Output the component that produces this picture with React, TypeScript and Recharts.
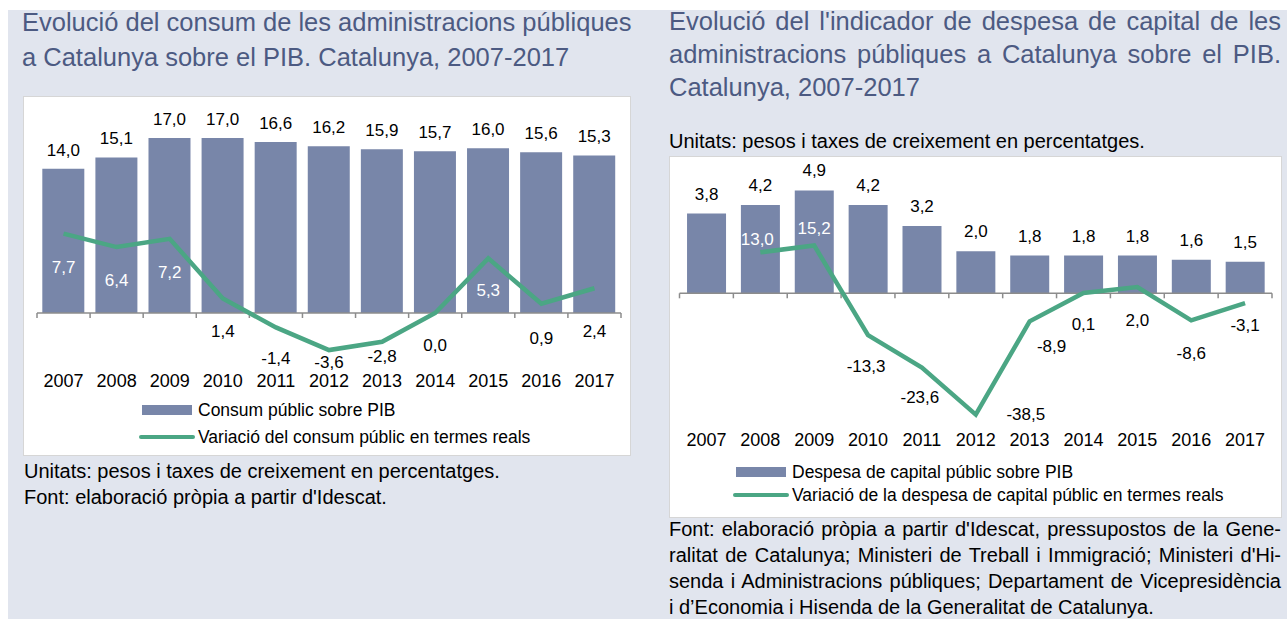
import React from "react";
import { Bar, ComposedChart, LabelList, Line, ReferenceLine, XAxis, YAxis } from "recharts";

const YEARS = ["2007", "2008", "2009", "2010", "2011", "2012", "2013", "2014", "2015", "2016", "2017"];

// Consum públic sobre PIB (%) i variació real (%)
const CONSUM_PIB = [14.0, 15.1, 17.0, 17.0, 16.6, 16.2, 15.9, 15.7, 16.0, 15.6, 15.3];
const CONSUM_VAR = [7.7, 6.4, 7.2, 1.4, -1.4, -3.6, -2.8, 0.0, 5.3, 0.9, 2.4];

// Despesa de capital públic sobre PIB (%) i variació real (%)
const CAPITAL_PIB = [3.8, 4.2, 4.9, 4.2, 3.2, 2.0, 1.8, 1.8, 1.8, 1.6, 1.5];
const CAPITAL_VAR: (number | null)[] = [null, 13.0, 15.2, -13.3, -23.6, -38.5, -8.9, 0.1, 2.0, -8.6, -3.1];

// where each line label sits relative to its point (moved by hand in the original)
const CONSUM_LABEL_DY = [34, 33, 34, 33, 31, 12, 15, 32, 32, 35, 43];
const CONSUM_LABEL_WHITE = [true, true, true, false, false, false, false, false, true, false, false];
const CAPITAL_LABEL_DX = [0, -3, 0, -2, -2, 50, 22, 0, 0, 0, 0];
const CAPITAL_LABEL_DY = [0, -13, -17, 31, 30, 0, 25, 32, 33, 33, 22];
const CAPITAL_LABEL_WHITE = [false, true, true, false, false, false, false, false, false, false, false];

const consumData = YEARS.map((year, i) => ({ year, pib: CONSUM_PIB[i], variacio: CONSUM_VAR[i] }));
const capitalData = YEARS.map((year, i) => ({ year, pib: CAPITAL_PIB[i], variacio: CAPITAL_VAR[i] }));

const BAR = "#7886a9";
const GREEN = "#4ba684";
const TITLE = "#4c5a82";
const PANEL = "#e1e5ee";
const FONT = "'Liberation Sans', Arial, sans-serif";

const fmt = (v: number) => v.toFixed(1).replace(".", ",");

function ZeroAxis(props: any) {
  const { x1, y1, x2 } = props;
  const n = YEARS.length;
  const ticks = [];
  for (let i = 0; i <= n; i++) {
    const x = x1 + ((x2 - x1) * i) / n;
    ticks.push(<line key={i} x1={x} x2={x} y1={y1} y2={y1 + 5} stroke="#8c8c8c" strokeWidth={1.5} />);
  }
  return (
    <g>
      <line x1={x1} x2={x2} y1={y1} y2={y1} stroke="#8c8c8c" strokeWidth={1.5} />
      {ticks}
    </g>
  );
}

function lineLabel(dxs: number[], dys: number[], white: boolean[]) {
  return (props: any) => {
    const { x, y, value, index } = props;
    if (value === null || value === undefined || y === null || y === undefined) return null;
    return (
      <text
        x={x + dxs[index]}
        y={y + dys[index]}
        textAnchor="middle"
        dominantBaseline="central"
        fontSize={17}
        fill={white[index] ? "#ffffff" : "#000000"}
      >
        {fmt(value)}
      </text>
    );
  };
}

function LegendRow({ top, left, kind, text }: { top: number; left: number; kind: "bar" | "line"; text: string }) {
  return (
    <div style={{ position: "absolute", top: top - 12, left, height: 24, display: "flex", alignItems: "center", fontSize: 17.5, color: "#000" }}>
      {kind === "bar" ? (
        <div style={{ width: 50, height: 10, background: BAR, marginLeft: 3, marginRight: 6 }} />
      ) : (
        <div style={{ width: 56, height: 4.5, background: GREEN, borderRadius: 2, marginRight: 3 }} />
      )}
      <span>{text}</span>
    </div>
  );
}

const justifyLine: React.CSSProperties = { textAlign: "justify", textAlignLast: "justify", whiteSpace: "nowrap" };

export default function App() {
  return (
    <div style={{ position: "absolute", left: 0, top: 0, width: 1287, height: 619, background: "#fff", fontFamily: FONT, overflow: "hidden" }}>
      <div style={{ position: "absolute", left: 8, top: 10, width: 1279, height: 609, background: PANEL }} />

      {/* left panel */}
      <div style={{ position: "absolute", left: 22, top: 5, width: 640, fontSize: 25.5, lineHeight: "35px", color: TITLE }}>
        <div>Evolució del consum de les administracions públiques</div>
        <div>a Catalunya sobre el PIB. Catalunya, 2007-2017</div>
      </div>
      <div style={{ position: "absolute", left: 24, top: 97, width: 606, height: 358, background: "#fff", boxShadow: "0 0 0 1px #d6d6d6" }} />
      <div style={{ position: "absolute", left: 24, top: 97 }}>
        <ComposedChart width={606} height={358} data={consumData} margin={{ top: 10, right: 9, left: 13, bottom: 60.5 }} barCategoryGap="10%">
          <XAxis dataKey="year" axisLine={false} tickLine={false} interval={0} height={30} tickMargin={4} tick={{ fontSize: 18, fill: "#000" }} />
          <YAxis hide width={0} domain={[-5, 20]} />
          <Bar dataKey="pib" fill={BAR} isAnimationActive={false}>
            <LabelList dataKey="pib" position="top" offset={13} fontSize={17} fill="#000" formatter={(v: any) => fmt(Number(v))} />
          </Bar>
          <ReferenceLine y={0} shape={ZeroAxis} />
          <Line dataKey="variacio" stroke={GREEN} strokeWidth={4.5} dot={false} activeDot={false} isAnimationActive={false}>
            <LabelList dataKey="variacio" content={lineLabel(YEARS.map(() => 0), CONSUM_LABEL_DY, CONSUM_LABEL_WHITE)} />
          </Line>
        </ComposedChart>
      </div>
      <LegendRow top={410} left={139} kind="bar" text="Consum públic sobre PIB" />
      <LegendRow top={437} left={139} kind="line" text="Variació del consum públic en termes reals" />
      <div style={{ position: "absolute", left: 24, top: 458, fontSize: 20, lineHeight: "26px", color: "#000" }}>
        <div>Unitats: pesos i taxes de creixement en percentatges.</div>
        <div>Font: elaboració pròpia a partir d'Idescat.</div>
      </div>

      {/* right panel */}
      <div style={{ position: "absolute", left: 669, top: 5, width: 612, fontSize: 25.5, lineHeight: "33px", color: TITLE }}>
        <div style={justifyLine}>Evolució del l'indicador de despesa de capital de les</div>
        <div style={justifyLine}>administracions públiques a Catalunya sobre el PIB.</div>
        <div>Catalunya, 2007-2017</div>
      </div>
      <div style={{ position: "absolute", left: 669, top: 128, fontSize: 20, lineHeight: "26px", color: "#000" }}>
        Unitats: pesos i taxes de creixement en percentatges.
      </div>
      <div style={{ position: "absolute", left: 670, top: 157, width: 611, height: 360, background: "#fff", boxShadow: "0 0 0 1px #d6d6d6" }} />
      <div style={{ position: "absolute", left: 670, top: 157 }}>
        <ComposedChart width={611} height={360} data={capitalData} margin={{ top: 10.3, right: 9, left: 9.5, bottom: 67.7 }} barCategoryGap="14%">
          <XAxis dataKey="year" axisLine={false} tickLine={false} interval={0} height={30} tickMargin={8} tick={{ fontSize: 18, fill: "#000" }} />
          <YAxis yAxisId="pib" hide width={0} domain={[-6, 6]} />
          <YAxis yAxisId="var" hide width={0} domain={[-40, 40]} orientation="right" />
          <Bar yAxisId="pib" dataKey="pib" fill={BAR} isAnimationActive={false}>
            <LabelList dataKey="pib" position="top" offset={14} fontSize={17} fill="#000" formatter={(v: any) => fmt(Number(v))} />
          </Bar>
          <ReferenceLine yAxisId="pib" y={0} shape={ZeroAxis} />
          <Line yAxisId="var" dataKey="variacio" stroke={GREEN} strokeWidth={4.5} dot={false} activeDot={false} isAnimationActive={false}>
            <LabelList dataKey="variacio" content={lineLabel(CAPITAL_LABEL_DX, CAPITAL_LABEL_DY, CAPITAL_LABEL_WHITE)} />
          </Line>
        </ComposedChart>
      </div>
      <LegendRow top={472} left={733} kind="bar" text="Despesa de capital públic sobre PIB" />
      <LegendRow top={495} left={733} kind="line" text="Variació de la despesa de capital públic en termes reals" />
      <div style={{ position: "absolute", left: 669, top: 516, width: 612, fontSize: 20, lineHeight: "26px", color: "#000" }}>
        <div style={justifyLine}>Font: elaboració pròpia a partir d'Idescat, pressupostos de la Gene-</div>
        <div style={justifyLine}>ralitat de Catalunya; Ministeri de Treball i Immigració; Ministeri d'Hi-</div>
        <div style={justifyLine}>senda i Administracions públiques; Departament de Vicepresidència</div>
        <div>i d’Economia i Hisenda de la Generalitat de Catalunya.</div>
      </div>
    </div>
  );
}
